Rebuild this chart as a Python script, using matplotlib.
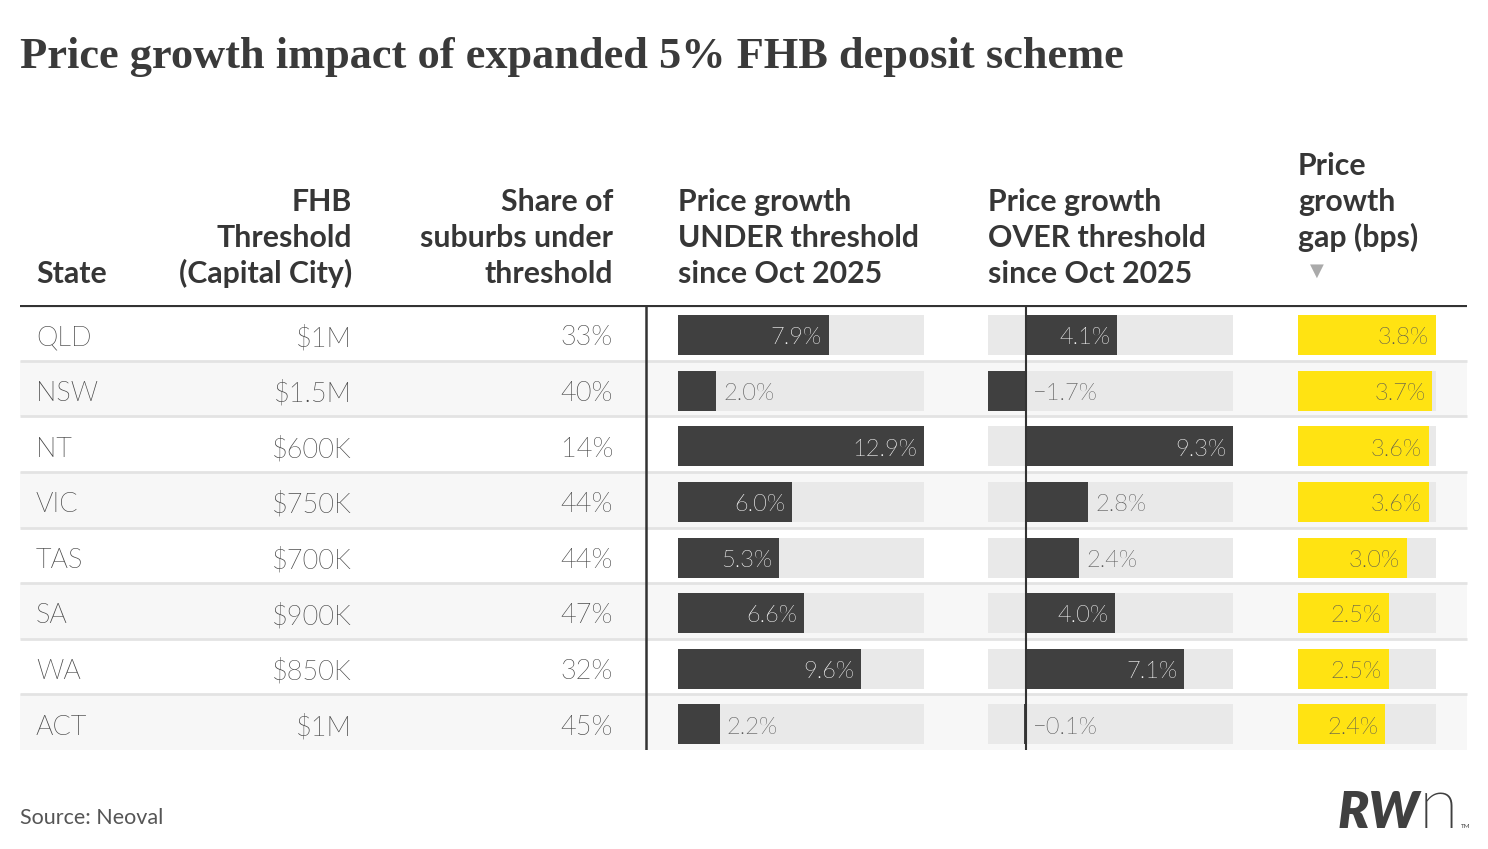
import matplotlib
matplotlib.use('Agg')
import matplotlib.pyplot as plt
from matplotlib import font_manager as fm

#### data
states = ['QLD', 'NSW', 'NT', 'VIC', 'TAS', 'SA', 'WA', 'ACT']
thresholds = ['$1M', '$1.5M', '$600K', '$750K', '$700K', '$900K', '$850K', '$1M']
share = [33, 40, 14, 44, 44, 47, 32, 45]
under = [7.9, 2.0, 12.9, 6.0, 5.3, 6.6, 9.6, 2.2]
over = [4.1, -1.7, 9.3, 2.8, 2.4, 4.0, 7.1, -0.1]
gap = [3.8, 3.7, 3.6, 3.6, 3.0, 2.5, 2.5, 2.4]

#### style
W, H = 1488, 849
dark = '#404040'
txt = '#454545'
head = '#363636'
bar_bg = '#e9e9e9'
stripe = '#f7f7f7'
sep = '#e3e3e3'
yellow = '#ffe312'
FONT = ['Lato', 'DejaVu Sans']

# look for the Lato Light file, the "light" weight name picks hairline here
light_file = None
for f in fm.fontManager.ttflist:
    fn = f.fname.lower()
    if f.name == 'Lato' and 'light' in fn and 'italic' not in fn and 'hairline' not in fn:
        light_file = f.fname
        break

def light(size):
    if light_file:
        return fm.FontProperties(fname=light_file, size=size)
    return fm.FontProperties(family=FONT, weight='normal', size=size)

def fx(x):
    return x / W

def fy(y):
    return 1 - y / H

fig = plt.figure(figsize=(W / 100, H / 100), dpi=100)
fig.patch.set_facecolor('white')

# title, fit to the width of the reference
title = fig.text(fx(20), fy(68), 'Price growth impact of expanded 5% FHB deposit scheme',
                 family=['Liberation Serif', 'DejaVu Serif'], weight='bold', size=34,
                 color='#3a3a3a', va='baseline', ha='left')
r = fig.canvas.get_renderer()
w = title.get_window_extent(r).width
title.set_fontsize(34 * 1103 / w)

# table body
top, bottom = 305, 750
n = len(states)
ax = fig.add_axes([0, fy(bottom), 1, (bottom - top) / H])
ax.set_xlim(0, W)
ax.set_ylim(n - 0.5, -0.5)
ax.axis('off')
for i in range(n):
    if i % 2 == 1:
        ax.axhspan(i - 0.5, i + 0.5, xmin=fx(20), xmax=fx(1467), color=stripe, lw=0, zorder=0)
    if i < n - 1:
        ax.hlines(i + 0.5, 20, 1467, color=sep, lw=2, zorder=1)
ax.hlines(-0.5, 20, 1467, color='#333333', lw=3, zorder=3)
ax.vlines(646, -0.5, n - 0.5, color='#333333', lw=1.8, zorder=3)

yc = [i + 0.04 for i in range(n)]
yt = [y + 0.05 for y in yc]   # text sits a touch lower than the bar centre
for i in range(n):
    ax.text(36, yt[i], states[i], fontproperties=light(19.5), color=txt,
            ha='left', va='center', parse_math=False)
    ax.text(352, yt[i], thresholds[i], fontproperties=light(19.5), color=txt,
            ha='right', va='center', parse_math=False)
    ax.text(613, yt[i], f'{share[i]}%', fontproperties=light(19.5), color=txt,
            ha='right', va='center')

def bar_col(x0, x1, lo, hi, vals, col, lab_col, always_inside=False):
    a = fig.add_axes([fx(x0), fy(bottom), (x1 - x0) / W, (bottom - top) / H])
    a.set_xlim(lo, hi)
    a.set_ylim(n - 0.5, -0.5)
    a.axis('off')
    a.patch.set_alpha(0)
    a.barh(yc, [hi - lo] * n, left=lo, height=0.72, color=bar_bg, lw=0, zorder=1)
    a.barh(yc, vals, height=0.72, color=col, lw=0, zorder=2)
    for i, v in enumerate(vals):
        s = f'{v:.1f}%'.replace('-', '\u2212')
        if always_inside or v >= 3.0:
            a.annotate(s, (v, yt[i]), xytext=(-5, 0), textcoords='offset points',
                       ha='right', va='center', fontproperties=light(17),
                       color=lab_col, zorder=4)
        else:
            a.annotate(s, (max(v, 0), yt[i]), xytext=(5, 0), textcoords='offset points',
                       ha='left', va='center', fontproperties=light(17),
                       color='#555555', zorder=4)
    return a

bar_col(678, 924, 0, max(under), under, dark, 'white')
ax_o = bar_col(988, 1233, min(over), max(over), over, dark, 'white')
ax_o.axvline(0, color='#333333', lw=1.5, zorder=5)
bar_col(1298, 1436, 0, max(gap), gap, yellow, '#555555', always_inside=True)

# headers
def header(x, lines, base, ha):
    for k, s in enumerate(lines):
        fig.text(fx(x), fy(base + 36 * k), s, family=FONT, weight='bold', size=21.8,
                 color=head, ha=ha, va='baseline')

header(36, ['State'], 283, 'left')
header(352, ['FHB', 'Threshold', '(Capital City)'], 211, 'right')
header(613, ['Share of', 'suburbs under', 'threshold'], 211, 'right')
header(678, ['Price growth', 'UNDER threshold', 'since Oct 2025'], 211, 'left')
header(988, ['Price growth', 'OVER threshold', 'since Oct 2025'], 211, 'left')
header(1298, ['Price', 'growth', 'gap (bps)'], 175, 'left')
fig.text(fx(1317), fy(271), '\u25bc', family=['DejaVu Sans'], size=13, color='#aaaaaa',
         ha='center', va='center')

# footer
fig.text(fx(20), fy(818), 'Source: Neoval', family=FONT, size=15.5, color='#555555',
         ha='left', va='center')
fig.text(fx(1338), fy(828), 'RW', family=FONT, weight='heavy', style='italic', size=37,
         color=dark, ha='left', va='baseline')
fig.text(fx(1419), fy(828), 'n', fontproperties=light(52), color=dark, ha='left', va='baseline')
fig.text(fx(1461), fy(828), 'TM', family=FONT, size=4.5, color=dark, ha='left', va='baseline')

fig.savefig('out.png', dpi=100)
